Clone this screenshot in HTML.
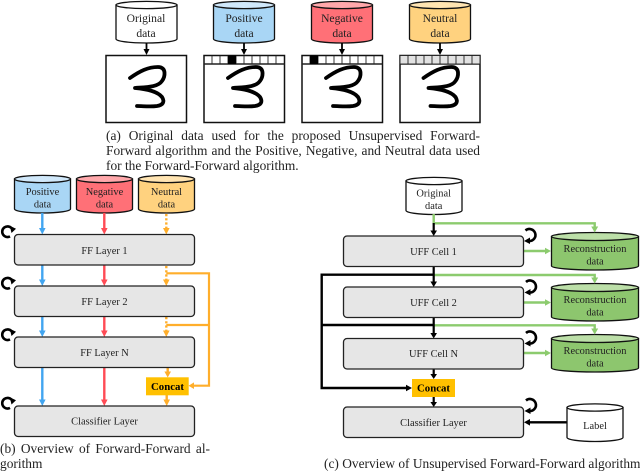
<!DOCTYPE html>
<html><head><meta charset="utf-8"><style>
html,body{margin:0;padding:0;background:#fff;width:640px;height:471px;overflow:hidden}
#w{position:absolute;left:0;top:0;width:640px;height:471px;filter:blur(0.35px)}
svg{position:absolute;left:0;top:0}
text{font-family:"Liberation Serif",serif;fill:#222;text-anchor:middle}
.t{font-size:10.4px}
.u{font-size:11.6px}
.b{font-size:10.8px;font-weight:bold;fill:#000}
.cap{position:absolute;font:13.4px/15px "Liberation Serif",serif;color:#222;white-space:nowrap;text-align:justify;text-align-last:justify}
.box{fill:#e6e6e6;stroke:#222;stroke-width:1.3}
.cy{stroke:#111;stroke-width:1.3}
.d{fill:none;stroke:#000;stroke-width:2.6}
</style></head><body><div id="w">
<svg width="640" height="471" viewBox="0 0 640 471" xmlns="http://www.w3.org/2000/svg">
<!-- top row cylinders -->
<path class="cy" fill="#fff" d="M116 5V39A30.5 4 0 0 0 177 39V5Z"/><ellipse class="cy" fill="#fff" cx="146.5" cy="5" rx="30.5" ry="3.6"/>
<path class="cy" fill="#a9d6f5" d="M213.500 5V39A30.500 4 0 0 0 274.500 39V5Z"/><ellipse class="cy" fill="#d0e8fa" cx="244" cy="5" rx="30.500" ry="3.600"/>
<path class="cy" fill="#ff7077" d="M311.500 5V39A30.500 4 0 0 0 372.500 39V5Z"/><ellipse class="cy" fill="#ffa8ab" cx="342" cy="5" rx="30.500" ry="3.600"/>
<path class="cy" fill="#ffd27f" d="M409.500 5V39A30.500 4 0 0 0 470.500 39V5Z"/><ellipse class="cy" fill="#ffe4b2" cx="440" cy="5" rx="30.500" ry="3.600"/>
<text class="u" x="146" y="22">Original</text><text class="u" x="146" y="37">data</text>
<text class="u" x="244" y="22">Positive</text><text class="u" x="244" y="37">data</text>
<text class="u" x="342" y="22">Negative</text><text class="u" x="342" y="37">data</text>
<text class="u" x="440" y="22">Neutral</text><text class="u" x="440" y="37">data</text>
<!-- top arrows -->
<g stroke="#000" stroke-width="1.8"><path d="M146.500 43V51M244 43V51M342 43V51M440 43V51"/></g>
<g fill="#000"><polygon points="143.500,49 149.500,49 146.500,55"/><polygon points="241,49 247,49 244,55"/><polygon points="339,49 345,49 342,55"/><polygon points="437,49 443,49 440,55"/></g>
<!-- image boxes -->
<g fill="#fff" stroke="#111" stroke-width="1.5">
<rect x="106" y="55.500" width="80.500" height="67"/>
<rect x="204" y="55.500" width="80.500" height="67"/>
<rect x="302" y="55.500" width="80.500" height="67"/>
<rect x="400" y="55.500" width="80" height="67"/>
</g>
<!-- label strips -->
<g stroke="#222" stroke-width="0.9" fill="#fff">
<path fill="none" stroke-width="1.4" d="M204 64H284.500M302 64H382.500M400 64H480"/>
<path d="M212 55.500V64M220 55.500V64M228 55.500V64M236 55.500V64M244 55.500V64M252 55.500V64M260 55.500V64M268 55.500V64M276 55.500V64"/>
<path d="M310 55.500V64M318 55.500V64M326 55.500V64M334 55.500V64M342 55.500V64M350 55.500V64M358 55.500V64M366 55.500V64M374 55.500V64"/>
<rect x="400" y="55.500" width="80" height="8.500" fill="#e2e2e2"/>
<path d="M408 55.500V64M416 55.500V64M424 55.500V64M432 55.500V64M440 55.500V64M448 55.500V64M456 55.500V64M464 55.500V64M472 55.500V64"/>
</g>
<rect x="228" y="55.500" width="8" height="8.500" fill="#000"/>
<rect x="310" y="55.500" width="8" height="8.500" fill="#000"/>
<!-- digit 3 -->
<g fill="none" stroke="#000" stroke-width="3.800" stroke-linecap="round" stroke-linejoin="round">
<path d="M130 78C140 71 148 67 158 67C167 67 165 77 162 81C158 87 148 87 135 88C146 89 157 91 162 97C165 102 163 105 157 106C150 107 143 106 137 106"/>
<path transform="translate(98 0)" d="M130 78C140 71 148 67 158 67C167 67 165 77 162 81C158 87 148 87 135 88C146 89 157 91 162 97C165 102 163 105 157 106C150 107 143 106 137 106"/>
<path transform="translate(196 0)" d="M130 78C140 71 148 67 158 67C167 67 165 77 162 81C158 87 148 87 135 88C146 89 157 91 162 97C165 102 163 105 157 106C150 107 143 106 137 106"/>
<path transform="translate(293.500 0)" d="M130 78C140 71 148 67 158 67C167 67 165 77 162 81C158 87 148 87 135 88C146 89 157 91 162 97C165 102 163 105 157 106C150 107 143 106 137 106"/>
</g>

<!-- panel b -->
<path class="cy" fill="#a9d6f5" d="M14.500 179V209A28 4 0 0 0 70.500 209V179Z"/><ellipse class="cy" fill="#d0e8fa" cx="42.500" cy="179" rx="28" ry="3.600"/>
<path class="cy" fill="#ff7077" d="M76.500 179V209A28 4 0 0 0 132.500 209V179Z"/><ellipse class="cy" fill="#ffa8ab" cx="104.500" cy="179" rx="28" ry="3.600"/>
<path class="cy" fill="#ffd27f" d="M138.500 179V209A28 4 0 0 0 194.500 209V179Z"/><ellipse class="cy" fill="#ffe4b2" cx="166.500" cy="179" rx="28" ry="3.600"/>
<text class="t" x="42.500" y="195">Positive</text><text class="t" x="42.500" y="207.500">data</text>
<text class="t" x="104.500" y="195">Negative</text><text class="t" x="104.500" y="207.500">data</text>
<text class="t" x="166.500" y="195">Neutral</text><text class="t" x="166.500" y="207.500">data</text>

<!-- blue -->
<path fill="none" stroke-width="2.400" stroke="#42a5f0" d="M42.300 213V230M42.300 265V282M42.300 316V333M42.300 367V402"/>
<g fill="#42a5f0"><polygon points="39,228 45.600,228 42.300,234.500"/><polygon points="39,279.500 45.600,279.500 42.300,286"/><polygon points="39,330.500 45.600,330.500 42.300,337"/><polygon points="39,399.500 45.600,399.500 42.300,406"/></g>
<!-- red -->
<path fill="none" stroke-width="2.400" stroke="#ff4b55" d="M104.300 213V230M104.300 265V282M104.300 316V333M104.300 367V402"/>
<g fill="#ff4b55"><polygon points="101,228 107.600,228 104.300,234.500"/><polygon points="101,279.500 107.600,279.500 104.300,286"/><polygon points="101,330.500 107.600,330.500 104.300,337"/><polygon points="101,399.500 107.600,399.500 104.300,406"/></g>
<!-- orange -->
<g fill="none" stroke="#ffae2b" stroke-width="2.400">
<path stroke-dasharray="2.200 2" d="M166.300 214V229M166.300 266V281M166.300 317V332"/>
<path stroke-width="2.200" d="M166.300 273.300H209V385.700H192M166.300 325H209"/>
<path d="M167.700 367V374M166.700 395V402"/>
</g>
<g fill="#ffae2b"><polygon points="163,228 169.600,228 166.300,234.500"/><polygon points="163,279.500 169.600,279.500 166.300,286"/><polygon points="163,330.500 169.600,330.500 166.300,337"/><polygon points="164.400,371.500 171,371.500 167.700,377.500"/><polygon points="163.400,399.500 170,399.500 166.700,406"/><polygon points="194,382.400 194,389 188.500,385.700"/></g>

<rect class="box" x="14.500" y="234.500" width="180" height="30.500" rx="3.500"/>
<rect class="box" x="14.500" y="286" width="180" height="30.500" rx="3.500"/>
<rect class="box" x="14.500" y="337" width="180" height="30.500" rx="3.500"/>
<rect class="box" x="14.500" y="406" width="180" height="30.500" rx="3.500"/>
<text class="t" x="104.500" y="254">FF Layer 1</text>
<text class="t" x="104.500" y="305">FF Layer 2</text>
<text class="t" x="104.500" y="356">FF Layer N</text>
<text class="t" x="104.500" y="424.500">Classifier Layer</text>
<rect x="146" y="377.300" width="42.700" height="18" fill="#ffc000"/>
<text class="b" x="167.500" y="390">Concat</text>
<!-- loops b -->
<g><path class="d" d="M10 236.400A5.300 5.300 0 1 1 11.500 228.200"/><polygon points="9.800,225.800 16,228.800 11.500,233"/></g>
<g transform="translate(0 51.500)"><path class="d" d="M10 236.400A5.300 5.300 0 1 1 11.500 228.200"/><polygon points="9.800,225.800 16,228.800 11.500,233"/></g>
<g transform="translate(0 103)"><path class="d" d="M10 236.400A5.300 5.300 0 1 1 11.500 228.200"/><polygon points="9.800,225.800 16,228.800 11.500,233"/></g>
<g transform="translate(0 171.500)"><path class="d" d="M10 236.400A5.300 5.300 0 1 1 11.500 228.200"/><polygon points="9.800,225.800 16,228.800 11.500,233"/></g>

<!-- panel c -->
<path class="cy" fill="#fff" d="M406 181V210.500A28 4 0 0 0 462 210.500V181Z"/><ellipse class="cy" fill="#fff" cx="434" cy="181" rx="28" ry="3.600"/>
<text class="t" x="433.700" y="196.500">Original</text><text class="t" x="433.700" y="209">data</text>

<!-- recon cylinders -->
<path class="cy" fill="#8dc66e" d="M551.500 236.500V266A43.500 4 0 0 0 638.500 266V236.500Z"/><ellipse class="cy" fill="#bcdfa8" cx="595" cy="236.500" rx="43.500" ry="4"/>
<path class="cy" fill="#8dc66e" d="M551.500 287.500V317A43.500 4 0 0 0 638.500 317V287.500Z"/><ellipse class="cy" fill="#bcdfa8" cx="595" cy="287.500" rx="43.500" ry="4"/>
<path class="cy" fill="#8dc66e" d="M551.500 338.500V368A43.500 4 0 0 0 638.500 368V338.500Z"/><ellipse class="cy" fill="#bcdfa8" cx="595" cy="338.500" rx="43.500" ry="4"/>
<text class="t" x="595" y="252">Reconstruction</text><text class="t" x="595" y="264.500">data</text>
<text class="t" x="595" y="303">Reconstruction</text><text class="t" x="595" y="315.500">data</text>
<text class="t" x="595" y="354">Reconstruction</text><text class="t" x="595" y="366.500">data</text>
<!-- label cyl -->
<path class="cy" fill="#fff" d="M567 407.500V437.500A28 4 0 0 0 623 437.500V407.500Z"/><ellipse class="cy" fill="#fff" cx="595" cy="407.500" rx="28" ry="3.600"/>
<text class="t" x="595" y="429">Label</text>

<!-- green -->
<g fill="none" stroke="#8ccb6e" stroke-width="2.400">
<path d="M433.700 214V223.300H594.700V228M433.700 275H594.700V279M433.700 325.300H594.700V330"/>
<path d="M524 251H546M524 302.500H546M524 353H546"/>
</g>
<g fill="#8ccb6e"><polygon points="591.200,226.500 598.200,226.500 594.700,232.500"/><polygon points="591.200,277.500 598.200,277.500 594.700,283.500"/><polygon points="591.200,328.500 598.200,328.500 594.700,334.500"/><polygon points="545,247.700 545,254.300 551,251"/><polygon points="545,299.200 545,305.800 551,302.500"/><polygon points="545,349.700 545,356.300 551,353"/></g>

<!-- black -->
<g fill="none" stroke="#000">
<path stroke-width="2.200" d="M433.700 223V232M433.700 267V283M433.700 318V334M433.700 369V376M433.700 397V403"/>
<path stroke-width="2.400" d="M433.700 274.700H321.700V388H408M321.700 325H433.700M566.500 422.300H528"/>
</g>
<g fill="#000"><polygon points="430.400,230.500 437,230.500 433.700,236"/><polygon points="430.400,281.500 437,281.500 433.700,287"/><polygon points="430.400,333 437,333 433.700,338.500"/><polygon points="430.400,374 437,374 433.700,379"/><polygon points="430.400,402 437,402 433.700,407"/><polygon points="406,384.700 406,391.300 412,388"/><polygon points="530,419 530,425.600 524,422.300"/></g>

<rect class="box" x="343.500" y="236" width="180" height="30.500" rx="3.500"/>
<rect class="box" x="343.500" y="287" width="180" height="30.500" rx="3.500"/>
<rect class="box" x="343.500" y="338.500" width="180" height="30.500" rx="3.500"/>
<rect class="box" x="343.500" y="407" width="180" height="30.500" rx="3.500"/>
<text class="t" x="433.500" y="255">UFF Cell 1</text>
<text class="t" x="433.500" y="306">UFF Cell 2</text>
<text class="t" x="433.500" y="357">UFF Cell N</text>
<text class="t" x="433.500" y="426">Classifier Layer</text>
<rect x="412" y="379" width="43" height="18" fill="#ffc000"/>
<text class="b" x="433.500" y="391.500">Concat</text>
<!-- loops c -->
<g><path class="d" d="M525.500 230.500A6 6 0 1 1 529 241"/><polygon points="530,237.500 530,244 524,241"/></g>
<g transform="translate(0.500 51.500)"><path class="d" d="M525.500 230.500A6 6 0 1 1 529 241"/><polygon points="530,237.500 530,244 524,241"/></g>
<g transform="translate(0.500 102.500)"><path class="d" d="M525.500 230.500A6 6 0 1 1 529 241"/><polygon points="530,237.500 530,244 524,241"/></g>
<g transform="translate(0.500 170)"><path class="d" d="M525.500 230.500A6 6 0 1 1 529 241"/><polygon points="530,237.500 530,244 524,241"/></g>
</svg>

<div class="cap" style="left:106px;top:128px;width:374px">(a) Original data used for the proposed Unsupervised Forward-</div>
<div class="cap" style="left:106px;top:143px;width:374px">Forward algorithm and the Positive, Negative, and Neutral data used</div>
<div class="cap" style="left:106px;top:158px;text-align-last:left">for the Forward-Forward algorithm.</div>
<div class="cap" style="left:0;top:441px;width:210px">(b) Overview of Forward-Forward al-</div>
<div class="cap" style="left:0;top:456px;text-align-last:left">gorithm</div>
<div class="cap" style="left:324px;top:456px;width:314px">(c) Overview of Unsupervised Forward-Forward algorithm</div>
</div></body></html>
